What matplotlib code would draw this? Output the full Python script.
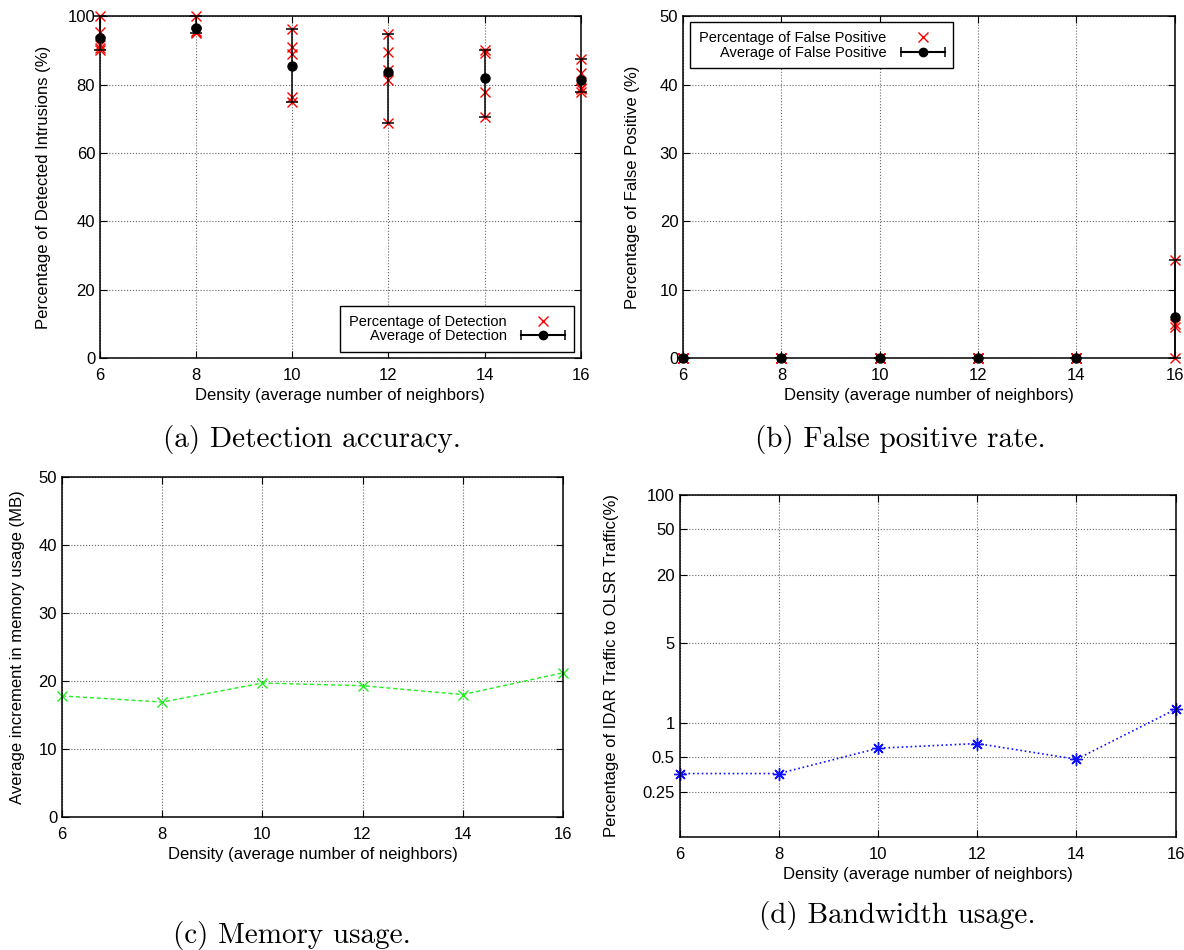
import numpy as np
import matplotlib
matplotlib.use('Agg')
import matplotlib.pyplot as plt
from matplotlib.container import ErrorbarContainer
from matplotlib.legend_handler import HandlerErrorbar

plt.rcParams['font.family'] = ['Liberation Sans', 'DejaVu Sans']
plt.rcParams['font.size'] = 12

density = [6, 8, 10, 12, 14, 16]

# (a) detection rate of every run, per density
detection_runs = [
    [100, 95.5, 91.5, 90.8, 90.2],
    [100, 95.6, 95.3, 95.0],
    [96.1, 91.1, 89.0, 76.5, 75.0],
    [94.9, 89.4, 84.2, 81.3, 68.8],
    [90.0, 89.2, 77.9, 70.6],
    [87.6, 83.4, 79.0, 78.8, 77.9],
]

# (b) false positive rate of every run
false_pos_runs = [
    [0, 0, 0, 0],
    [0, 0, 0, 0],
    [0, 0, 0, 0],
    [0, 0, 0, 0],
    [0, 0, 0, 0],
    [14.3, 5.0, 4.6, 0],
]

# (c) memory (MB) and (d) bandwidth (%)
memory_mb = [17.8, 16.9, 19.7, 19.3, 18.0, 21.2]
bandwidth_pct = [0.36, 0.36, 0.60, 0.66, 0.48, 1.32]
bw_ticks = [0.25, 0.5, 1, 5, 20, 50, 100]

xlabel = 'Density (average number of neighbors)'
grid_kw = dict(color='#666666', linestyle=':', linewidth=0.8)


def style_axes(ax):
    ax.set_xlim(6, 16)
    ax.set_xticks(density)
    ax.grid(True, **grid_kw)
    ax.tick_params(direction='in', top=True, right=True, length=5, labelsize=12)
    ax.tick_params(axis='x', pad=7)
    for s in ax.spines.values():
        s.set_linewidth(1.1)
    ax.set_xlabel(xlabel, fontsize=12, labelpad=4)


def runs_panel(ax, runs, pct_label, avg_label):
    for x, vals in zip(density, runs):
        ax.plot([x] * len(vals), vals, 'x', color='red', ms=7, mew=1.0,
                clip_on=False, zorder=4)
    means = [np.mean(v) for v in runs]
    lo = [m - min(v) for m, v in zip(means, runs)]
    hi = [max(v) - m for m, v in zip(means, runs)]
    ax.errorbar(density, means, yerr=[lo, hi], fmt='o', color='black', ms=6.5,
                elinewidth=1.1, capsize=4.5, capthick=1.1, clip_on=False, zorder=5)
    # legend proxies
    h1, = ax.plot([], [], 'x', color='red', ms=7, mew=1.0)
    h2 = ax.errorbar([np.nan], [np.nan], xerr=[1], fmt='o-', color='black', ms=6,
                     elinewidth=1.1, capsize=3.5, capthick=1.1)
    return [h1, h2], [pct_label, avg_label]


def panel_legend(ax, handles, labels, loc, anchor):
    leg = ax.legend(handles, labels, loc=loc, bbox_to_anchor=anchor,
                    borderaxespad=0, markerfirst=False, fancybox=False,
                    edgecolor='black', framealpha=1, fontsize=10.5,
                    handlelength=3.0, labelspacing=0.05, borderpad=0.6,
                    handletextpad=1.0,
                    handler_map={ErrorbarContainer: HandlerErrorbar(xerr_size=1.5)})
    leg.get_frame().set_linewidth(1.0)


fig = plt.figure(figsize=(11.84, 9.5), dpi=100)

# (a)
ax_a = fig.add_axes([0.0845, 0.623, 0.406, 0.360])
handles, labels = runs_panel(ax_a, detection_runs, 'Percentage of Detection',
                             'Average of Detection')
ax_a.set_ylim(0, 100)
ax_a.set_yticks([0, 20, 40, 60, 80, 100])
style_axes(ax_a)
ax_a.set_ylabel('Percentage of Detected Intrusions (%)', fontsize=12, labelpad=12)
panel_legend(ax_a, handles, labels, 'lower right', (1 - 7 / 480, 6 / 342))

# (b)
ax_b = fig.add_axes([0.577, 0.623, 0.415, 0.360])
handles, labels = runs_panel(ax_b, false_pos_runs, 'Percentage of False Positive',
                             'Average of False Positive')
ax_b.set_ylim(0, 50)
ax_b.set_yticks([0, 10, 20, 30, 40, 50])
style_axes(ax_b)
ax_b.set_ylabel('Percentage of False Positive (%)', fontsize=12, labelpad=14)
panel_legend(ax_b, handles, labels, 'upper left', (7 / 491, 1 - 6 / 342))

# (c)
ax_c = fig.add_axes([0.0524, 0.140, 0.423, 0.358])
ax_c.plot(density, memory_mb, '--', color='#22ee22', lw=1.0, marker='x', ms=7.5,
          mew=1.0, dashes=(3, 2), clip_on=False)
ax_c.set_ylim(0, 50)
ax_c.set_yticks([0, 10, 20, 30, 40, 50])
style_axes(ax_c)
ax_c.set_ylabel('Average increment in memory usage (MB)', fontsize=12, labelpad=10)

# (d)
ax_d = fig.add_axes([0.574, 0.119, 0.419, 0.360])
ax_d.plot(density, bandwidth_pct, ':', color='#1111ff', lw=1.2, marker=(8, 2, 0),
          ms=9, mew=1.0, clip_on=False)
ax_d.set_yscale('log')
ax_d.set_ylim(0.1, 100)
ax_d.set_yticks(bw_ticks)
ax_d.set_yticklabels([f'{t:g}' for t in bw_ticks])
ax_d.yaxis.set_minor_locator(matplotlib.ticker.NullLocator())
style_axes(ax_d)
ax_d.set_ylabel('Percentage of IDAR Traffic to OLSR Traffic(%)', fontsize=12,
                labelpad=17)

# sub-captions
cap_kw = dict(ha='center', va='center', fontsize=21, family='cmr10')
fig.text(312 / 1184, 1 - 439 / 950, '(a) Detection accuracy.', **cap_kw)
fig.text(900 / 1184, 1 - 439 / 950, '(b) False positive rate.', **cap_kw)
fig.text(292 / 1184, 1 - 935 / 950, '(c) Memory usage.', **cap_kw)
fig.text(897 / 1184, 1 - 915 / 950, '(d) Bandwidth usage.', **cap_kw)

fig.savefig('out.png', dpi=100)
